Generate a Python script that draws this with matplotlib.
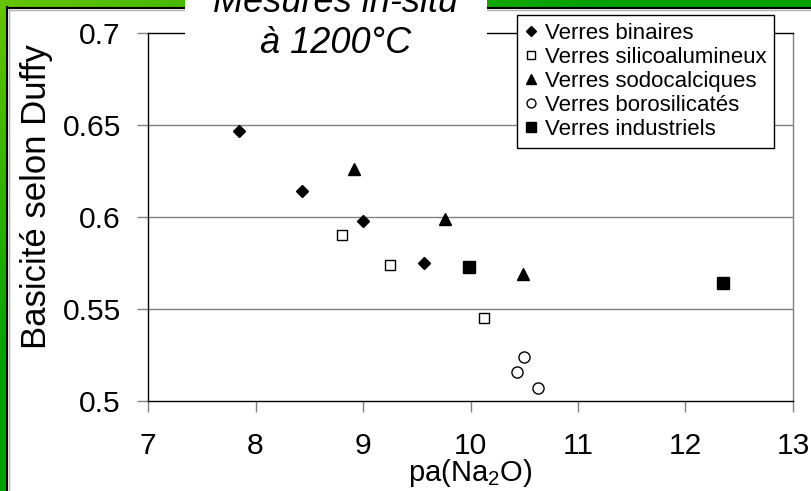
import numpy as np
import matplotlib
matplotlib.use("Agg")
import matplotlib.pyplot as plt
from matplotlib.patches import Rectangle

plt.rcParams['font.family'] = ['Liberation Sans', 'DejaVu Sans']
plt.rcParams['mathtext.fontset'] = 'custom'
plt.rcParams['mathtext.rm'] = 'Liberation Sans'
plt.rcParams['mathtext.it'] = 'Liberation Sans:italic'

# pa(Na2O) vs basicite (Duffy), one list pair per glass family
binaires_x = [7.85, 8.43, 9.00, 9.57]
binaires_y = [0.647, 0.614, 0.598, 0.575]
silico_x = [8.80, 9.25, 10.13]
silico_y = [0.590, 0.574, 0.545]
sodo_x = [8.92, 9.76, 10.49]
sodo_y = [0.626, 0.599, 0.569]
boro_x = [10.50, 10.43, 10.63]
boro_y = [0.524, 0.516, 0.507]
indus_x = [9.99, 12.35]
indus_y = [0.573, 0.564]

labels = ["Verres binaires", "Verres silicoalumineux", "Verres sodocalciques",
          "Verres borosilicatés", "Verres industriels"]
xticks = [7, 8, 9, 10, 11, 12, 13]
yticks = [0.5, 0.55, 0.6, 0.65, 0.7]

W, H = 812, 491
fig = plt.figure(figsize=(W / 100, H / 100), dpi=100)

# green slide frame (diagonal gradient) behind everything
bg = fig.add_axes([0, 0, 1, 1], zorder=0)
xx, yy = np.meshgrid(np.arange(W), np.arange(H))
t = np.clip((xx + 1.6 * yy) / 600.0, 0, 1)[..., None]
light = np.array([0.40, 0.77, 0.0])
dark = np.array([0.0, 0.63, 0.0])
bg.imshow(light * (1 - t) + dark * t, extent=[0, W, H, 0], aspect='auto')
bg.add_patch(Rectangle((8, 8), W, H, facecolor='white', edgecolor='none'))
bg.plot([7.5, 7.5], [7, H], color='black', lw=1.5)
bg.plot([7, W], [7.5, 7.5], color='black', lw=1.5)
bg.plot([9.5, 9.5], [9, H], color='#b0b0b0', lw=1)
bg.plot([9, W], [9.5, 9.5], color='#b0b0b0', lw=1)
bg.set_xlim(0, W)
bg.set_ylim(H, 0)
bg.axis('off')

ax = fig.add_axes([148 / W, 1 - 401 / H, 645 / W, 368 / H], zorder=1)
ax.set_facecolor('none')

ax.plot(binaires_x, binaires_y, ls='none', marker='D', ms=6.2, color='black', label=labels[0])
ax.plot(silico_x, silico_y, ls='none', marker='s', ms=7.5, mfc='white', mec='black', mew=1, label=labels[1])
ax.plot(sodo_x, sodo_y, ls='none', marker='^', ms=8.5, color='black', label=labels[2])
ax.plot(boro_x, boro_y, ls='none', marker='o', ms=8, mfc='white', mec='black', mew=1, label=labels[3])
ax.plot(indus_x, indus_y, ls='none', marker='s', ms=8.5, color='black', label=labels[4])

ax.set_xlim(7, 13)
ax.set_ylim(0.5, 0.7)
ax.set_xticks(xticks)
ax.set_yticks(yticks)
ax.set_yticklabels(['%g' % v for v in yticks])
ax.tick_params(axis='both', direction='out', length=8, width=1, colors='#808080',
               labelcolor='black', labelsize=21.6)
ax.tick_params(axis='x', pad=14)
ax.tick_params(axis='y', pad=11.5)
for y in yticks[1:-1]:
    ax.axhline(y, color='#808080', lw=1, zorder=0.5)
for side in ['left', 'bottom', 'top']:
    ax.spines[side].set_color('black')
ax.spines['right'].set_color('#808080')
for s in ax.spines.values():
    s.set_linewidth(1)

ax.set_xlabel('pa(Na$_2$O)', fontsize=21)
ax.set_ylabel('Basicité selon Duffy', fontsize=25)
ax.xaxis.set_label_coords(0.5, -0.152)
ax.yaxis.set_label_coords(-0.148, 0.555)

leg = ax.legend(loc='upper left', bbox_to_anchor=(517 / W, 1 - 15 / H),
                bbox_transform=fig.transFigure, fontsize=16, frameon=True,
                fancybox=False, shadow=False, framealpha=1, edgecolor='black',
                borderaxespad=0, borderpad=0.35, labelspacing=0.14,
                handlelength=0.6, handletextpad=0.3, markerscale=0.8)
leg.get_frame().set_linewidth(1)

# title box over the top of the frame
fig.add_artist(Rectangle((185 / W, 1 - 60 / H), 302 / W, 60 / H,
                         transform=fig.transFigure, facecolor='white',
                         edgecolor='none', zorder=5))
fig.text(336 / W, 1 - 12 / H, 'Mesures in-situ', ha='center', va='baseline',
         fontsize=26, style='italic', zorder=6)
fig.text(336 / W, 1 - 53 / H, 'à 1200°C', ha='center', va='baseline',
         fontsize=26, style='italic', zorder=6)

fig.savefig('out.png', dpi=100)
